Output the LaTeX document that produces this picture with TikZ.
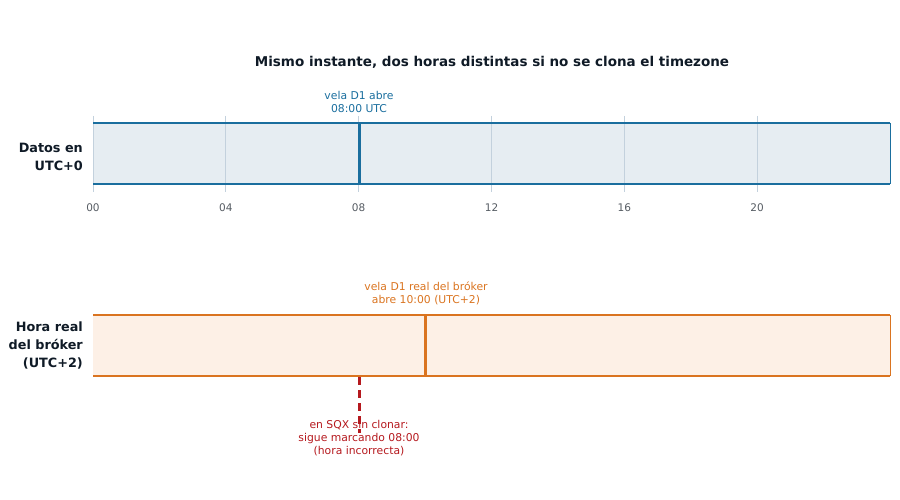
\documentclass[tikz,border=0pt]{standalone}
\usepackage{fontspec}
\setmainfont{DejaVu Sans}
\definecolor{cblue}{HTML}{1A6E9E}
\definecolor{cbluefill}{HTML}{E6EDF2}
\definecolor{cgrid}{HTML}{C3D1DD}
\definecolor{corange}{HTML}{DA7420}
\definecolor{corangefill}{HTML}{FDF0E6}
\definecolor{cred}{HTML}{B5191E}
\definecolor{cdark}{HTML}{0F1A26}
\definecolor{ctick}{HTML}{555B62}
\tikzset{
  rowlabel/.style={font=\fontsize{12.8}{18}\selectfont\bfseries, text=cdark, align=right, anchor=east, inner sep=0pt},
  annot/.style={font=\fontsize{10.8}{13}\selectfont, align=center, inner sep=0pt},
  ticklbl/.style={font=\fontsize{10.5}{12}\selectfont, text=ctick, inner sep=0pt},
  gridln/.style={draw=cgrid, line width=1pt},
}
\begin{document}
\begin{tikzpicture}[x=1pt,y=-1pt]
\useasboundingbox (0,0) rectangle (900,500);
% title
\node[font=\fontsize{13.5}{16}\selectfont\bfseries, text=cdark, inner sep=0pt] (title) at (492,62) {Mismo instante, dos horas distintas si no se clona el timezone};

% top band
\fill[cbluefill] (93,123) rectangle (890,184);
\foreach \h/\lab in {0/00,4/04,8/08,12/12,16/16,20/20} {
  \pgfmathsetmacro{\xx}{93+797*\h/24}
  \draw[gridln] (\xx,116) -- (\xx,192);
  \node[ticklbl] (t\lab) at (\xx,208) {\lab};
}
\draw[cblue, line width=2pt] (93,123) -- (890,123);
\draw[cblue, line width=2pt] (93,184) -- (890,184);
\draw[cblue, line width=0.8pt] (890,123) -- (890,184);
\coordinate (b8top) at (359,123);
\coordinate (b8bot) at (359,184);
\draw[cblue, line width=3pt] (b8top) -- (b8bot);
\node[annot, text=cblue] (lab8) at (359,102) {vela D1 abre\\08:00 UTC};
\node[rowlabel] (rowA) at (83,157) {Datos en\\UTC+0};

% bottom band
\fill[corangefill] (93,315) rectangle (890,376);
\draw[corange, line width=2pt] (93,315) -- (890,315);
\draw[corange, line width=2pt] (93,376) -- (890,376);
\draw[corange, line width=0.8pt] (890,315) -- (890,376);
\coordinate (o10top) at (425.5,315);
\coordinate (o10bot) at (425.5,376);
\draw[corange, line width=3pt] (o10top) -- (o10bot);
\node[annot, text=corange] (lab10) at (426,293) {vela D1 real del bróker\\abre 10:00 (UTC+2)};
\node[rowlabel] (rowB) at (83,345) {Hora real\\del bróker\\(UTC+2)};

% red dashed
\coordinate (r8top) at (359,377);
\coordinate (r8bot) at (359,433);
\draw[cred, line width=3pt, dash pattern=on 8pt off 5pt] (r8top) -- (r8bot);
\node[annot, text=cred] (labred) at (359,438) {en SQX sin clonar:\\sigue marcando 08:00\\(hora incorrecta)};
\end{tikzpicture}
\end{document}
